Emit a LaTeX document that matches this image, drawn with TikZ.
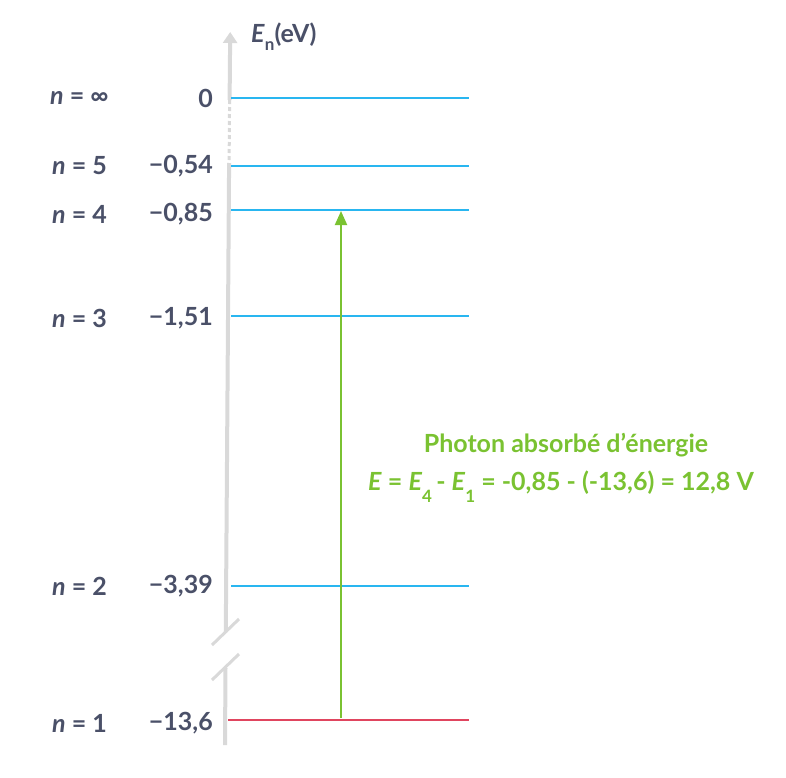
\documentclass[tikz,border=0pt]{standalone}
\usepackage{fontspec}
\setmainfont{Lato}
\usetikzlibrary{arrows.meta}
\definecolor{axisgray}{HTML}{D9D9D9}
\definecolor{levelblue}{HTML}{29B6F0}
\definecolor{levelred}{HTML}{E0455F}
\definecolor{photongreen}{HTML}{7AC231}
\definecolor{textgray}{HTML}{4A5068}
\newcommand{\labelfont}{\fontsize{25}{28}\selectfont\bfseries}
\newcommand{\lowsub}[2]{\raisebox{-#1}{\fontsize{17}{18}\selectfont #2}}
\tikzset{
  axisline/.style={axisgray, line width=4pt},
  levelline/.style={levelblue, line width=2pt},
  groundline/.style={levelred, line width=2pt},
  nlabel/.style={anchor=west, text=textgray, font=\labelfont, inner sep=0pt},
  vlabel/.style={anchor=east, text=textgray, font=\labelfont, inner sep=0pt},
  greentext/.style={text=photongreen, font=\labelfont, inner sep=0pt},
  photon/.style={photongreen, line width=2pt, -{Triangle[width=12pt,length=14pt]}},
}
\begin{document}
\begin{tikzpicture}[x=1pt,y=1pt]
\useasboundingbox (0,0) rectangle (786,-777);
% axis
\coordinate (axtop) at (230.2,-32);
\coordinate (ax0) at (229.6,-100);
\coordinate (ax5) at (229.1,-163);
\coordinate (axbreakA) at (225.8,-632);
\coordinate (axbreakB) at (225.5,-668);
\coordinate (axbot) at (225,-745);
\draw[axisline, -{Triangle[width=14pt,length=11pt]}] (ax0) -- (axtop);
\draw[axisgray, line width=3pt, dash pattern=on 4pt off 3pt] (ax0) -- (ax5);
\draw[axisline] (ax5) -- (axbreakA);
\draw[axisline] (axbreakB) -- (axbot);
\coordinate (brA1) at (212,-645);
\coordinate (brA2) at (239,-619);
\coordinate (brB1) at (212,-680);
\coordinate (brB2) at (239,-654);
\draw[axisgray, line width=3pt] (brA1) -- (brA2);
\draw[axisgray, line width=3pt] (brB1) -- (brB2);
\node[anchor=base west, text=textgray, font=\labelfont, inner sep=0pt] (axtitle) at (251,-42) {\textit{E}\lowsub{8pt}{n}(eV)};
% levels
\coordinate (Linf) at (231,-98);  \coordinate (Rinf) at (469,-98);
\coordinate (L5) at (231,-166);   \coordinate (R5) at (469,-166);
\coordinate (L4) at (231,-210);   \coordinate (R4) at (469,-210);
\coordinate (L3) at (231,-316);   \coordinate (R3) at (469,-316);
\coordinate (L2) at (231,-586);   \coordinate (R2) at (469,-586);
\coordinate (L1) at (228,-720);   \coordinate (R1) at (469,-720);
\draw[levelline] (Linf) -- (Rinf);
\draw[levelline] (L5) -- (R5);
\draw[levelline] (L4) -- (R4);
\draw[levelline] (L3) -- (R3);
\draw[levelline] (L2) -- (R2);
\draw[groundline] (L1) -- (R1);
% labels
\node[nlabel] (ninf) at (50,-98) {\textit{n} = ∞};
\node[nlabel] (n5) at (52,-166) {\textit{n} = 5};
\node[nlabel] (n4) at (52,-214) {\textit{n} = 4};
\node[nlabel] (n3) at (52,-318) {\textit{n} = 3};
\node[nlabel] (n2) at (52,-586) {\textit{n} = 2};
\node[nlabel] (n1) at (52,-723) {\textit{n} = 1};
\node[vlabel] (vinf) at (213,-98) {0};
\node[vlabel] (v5) at (213,-166) {−0,54};
\node[vlabel] (v4) at (213,-214) {−0,85};
\node[vlabel] (v3) at (213,-318) {−1,51};
\node[vlabel] (v2) at (213,-586) {−3,39};
\node[vlabel] (v1) at (213,-723) {−13,6};
% photon arrow
\coordinate (phstart) at (341,-718);
\coordinate (phend) at (341,-211);
\draw[photon] (phstart) -- (phend);
\node[greentext, anchor=base] (phtitle) at (566,-452) {Photon absorbé d’énergie};
\node[greentext, anchor=base] (pheq) at (561,-490) {\textit{E} = \textit{E}\lowsub{12pt}{4}\,- \textit{E}\lowsub{12pt}{1} = -0,85 - (-13,6) = 12,8 V};
\end{tikzpicture}
\end{document}
